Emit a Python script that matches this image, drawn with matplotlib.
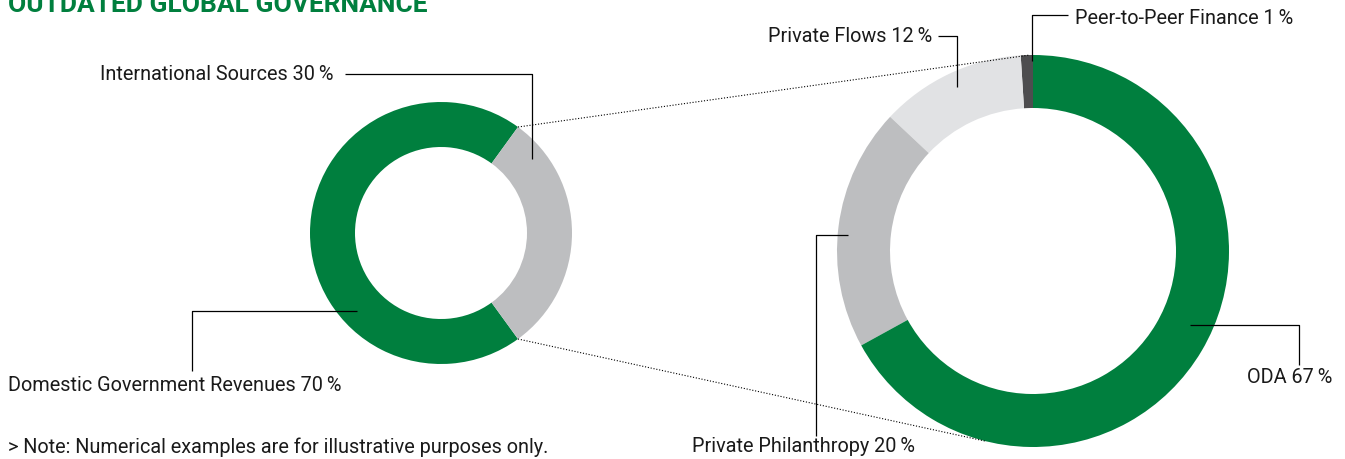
import numpy as np
import matplotlib
matplotlib.use("Agg")
import matplotlib.pyplot as plt

# ---------------------------------------------------------------------------
# Data
# ---------------------------------------------------------------------------
left_labels = ["Domestic Government Revenues", "International Sources"]
left_values = [70, 30]
left_colors = ["#007F3E", "#BDBEC0"]

right_labels = ["Peer-to-Peer Finance", "Private Flows", "Private Philanthropy", "ODA"]
right_values = [1, 12, 20, 67]
right_colors = ["#4D4D4F", "#E1E2E4", "#BDBEC0", "#007F3E"]

title = "OUTDATED GLOBAL GOVERNANCE"
note = "> Note: Numerical examples are for illustrative purposes only."

W, H = 1345, 460
GREEN = "#007F3E"

plt.rcParams["font.family"] = ["Roboto", "DejaVu Sans"]


def Y(y):
    """image-style y (top down) -> axes y"""
    return H - y


def pct(v):
    return f"{v}\u2009%"


fig = plt.figure(figsize=(W / 100, H / 100), dpi=100)
ax = fig.add_axes([0, 0, 1, 1])

# left donut
lc, lr, lw_ = (441, Y(234)), 131, 45
ax.pie(left_values, colors=left_colors, startangle=54, counterclock=True,
       center=lc, radius=lr, wedgeprops=dict(width=lw_, edgecolor="none"))

# right donut
rc, rr, rw = (1033, Y(252)), 196, 53
ax.pie(right_values, colors=right_colors, startangle=90, counterclock=True,
       center=rc, radius=rr, wedgeprops=dict(width=rw, edgecolor="none"))


def on_circle(c, r, ang):
    a = np.deg2rad(ang)
    return c[0] + r * np.cos(a), c[1] + r * np.sin(a)


# dotted connector lines
for a_left, a_right in [(54, 91), (-54, 256)]:
    x0, y0 = on_circle(lc, lr, a_left)
    x1, y1 = on_circle(rc, rr, a_right)
    ax.plot([x0, x1], [y0, y1], color="black", lw=0.8, ls=(0, (1, 1.6)))

# leader lines
lk = dict(color="black", lw=0.9, solid_capstyle="butt")
ax.plot([345, 532, 532], [Y(75), Y(75), Y(160)], **lk)
ax.plot([192, 192, 357], [Y(372), Y(312), Y(312)], **lk)
ax.plot([938, 957, 957], [Y(37), Y(37), Y(88)], **lk)
ax.plot([1068, 1032, 1032], [Y(16), Y(16), Y(62)], **lk)
ax.plot([816, 816, 848], [Y(437), Y(236), Y(236)], **lk)
ax.plot([1190, 1299, 1299], [Y(326), Y(326), Y(366)], **lk)

fs = 14.3
tk = dict(fontsize=fs, color="#1a1a1a", va="center")
ax.text(333, Y(75), f"{left_labels[1]} {pct(left_values[1])}", ha="right", **tk)
ax.text(8, Y(386), f"{left_labels[0]} {pct(left_values[0])}", ha="left", **tk)
ax.text(932, Y(37), f"{right_labels[1]} {pct(right_values[1])}", ha="right", **tk)
ax.text(1075, Y(18), f"{right_labels[0]} {pct(right_values[0])}", ha="left", **tk)
ax.text(692, Y(447), f"{right_labels[2]} {pct(right_values[2])}", ha="left", **tk)
ax.text(1332, Y(378), f"{right_labels[3]} {pct(right_values[3])}", ha="right", **tk)

ax.text(8, Y(12), title, ha="left", va="baseline", fontsize=19,
        fontweight="bold", color=GREEN)
ax.text(8, Y(447), note, ha="left", **tk)

ax.set_xlim(0, W)
ax.set_ylim(0, H)
ax.set_aspect("auto")
ax.axis("off")

fig.savefig("out.png", dpi=100)
